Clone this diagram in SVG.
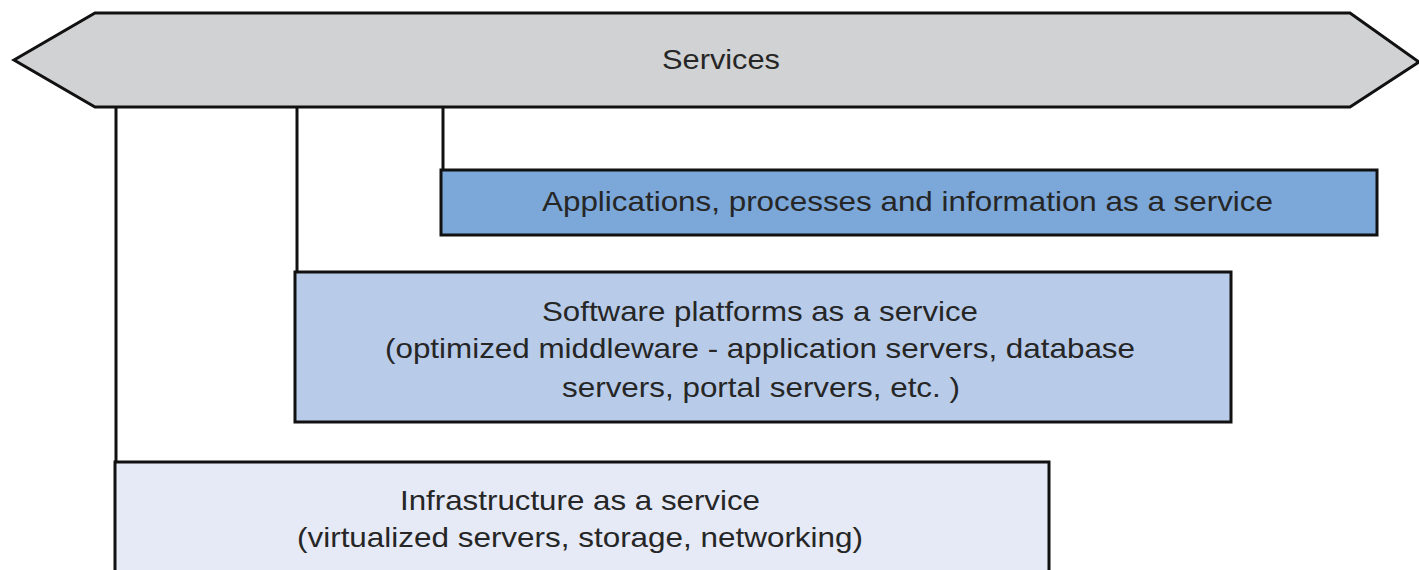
<svg xmlns="http://www.w3.org/2000/svg" width="1419" height="570" viewBox="0 0 1419 570">
<style>
.t{font-family:"Liberation Sans",Arial,sans-serif;font-size:28px;fill:#262626;text-anchor:middle}
.b{stroke:#111;stroke-width:3}
.c{stroke:#111;stroke-width:3;fill:none}
</style>
<rect width="1419" height="570" fill="#fff"/>
<g id="services">
<polygon class="b" points="14,60 95,13 1350,13 1419,62 1350,107 95,107" fill="#d1d2d4"/>
<text class="t" x="721" y="69" textLength="118" lengthAdjust="spacingAndGlyphs">Services</text>
</g>
<g id="connectors">
<line class="c" x1="116" y1="107" x2="116" y2="462"/>
<line class="c" x1="297" y1="107" x2="297" y2="272"/>
<line class="c" x1="443" y1="107" x2="443" y2="170"/>
</g>
<g id="apps">
<rect class="b" x="441" y="170" width="936" height="65" fill="#7ba7d9"/>
<text class="t" x="907.5" y="211" textLength="731" lengthAdjust="spacingAndGlyphs">Applications, processes and information as a service</text>
</g>
<g id="software">
<rect class="b" x="295" y="272" width="936" height="150" fill="#b8ccea"/>
<text class="t" x="760" y="321" textLength="436" lengthAdjust="spacingAndGlyphs">Software platforms as a service</text>
<text class="t" x="760" y="358" textLength="750" lengthAdjust="spacingAndGlyphs">(optimized middleware - application servers, database</text>
<text class="t" x="761" y="397" textLength="398" lengthAdjust="spacingAndGlyphs">servers, portal servers, etc. )</text>
</g>
<g id="infra">
<rect class="b" x="115" y="462" width="934" height="130" fill="#e5eaf6"/>
<text class="t" x="580" y="510" textLength="360" lengthAdjust="spacingAndGlyphs">Infrastructure as a service</text>
<text class="t" x="580" y="547" textLength="566" lengthAdjust="spacingAndGlyphs">(virtualized servers, storage, networking)</text>
</g>
</svg>
